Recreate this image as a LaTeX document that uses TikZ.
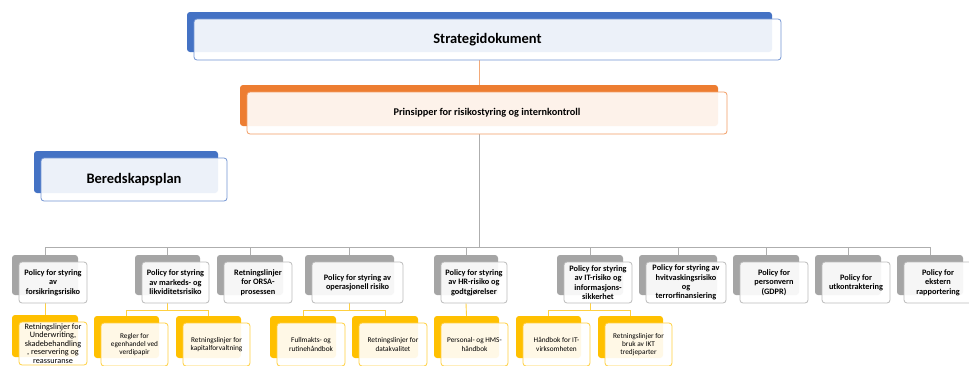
\documentclass[tikz,border=0pt]{standalone}
\usepackage{fontspec}
\setmainfont{Carlito}
\usetikzlibrary{backgrounds}

\definecolor{cblue}{HTML}{4472C4}
\definecolor{corange}{HTML}{ED7D31}
\definecolor{cgray}{HTML}{A5A5A5}
\definecolor{cgold}{HTML}{FFC000}

\tikzset{
  tileback/.style={rectangle, rounded corners=3pt, inner sep=0pt, draw=none},
  tilefront/.style={rectangle, rounded corners=3pt, inner sep=1pt, fill=white,
    fill opacity=0.9, text opacity=1, line width=0.8pt, align=center},
  fbig/.style={font=\fontsize{14.5}{17}\selectfont\bfseries},
  fmid/.style={font=\fontsize{10.3}{12}\selectfont\bfseries},
  fpol/.style={font=\fontsize{8.3}{9.4}\selectfont\bfseries},
  fdoc/.style={font=\fontsize{7.3}{8.4}\selectfont},
  fdocl/.style={font=\fontsize{8.2}{8.5}\selectfont},
  graylink/.style={draw=cgray!90, line width=0.9pt},
  goldlink/.style={draw=cgold!75, line width=0.9pt},
  toplink/.style={draw=corange!65, line width=1pt},
}

% #1 name, #2 x, #3 y (centre of front tile), #4 width, #5 height,
% #6 colour, #7 font style, #8 text
\newcommand\tile[8]{%
  \pgfmathsetmacro\tbw{#4-2}\pgfmathsetmacro\tbh{#5-1}%
  \pgfmathsetmacro\tbx{#2-8}\pgfmathsetmacro\tby{#3-7.5}%
  \node[tileback, fill=#6, minimum width=\tbw pt, minimum height=\tbh pt] (#1b) at (\tbx,\tby) {};
  \node[tilefront, draw=#6!75, minimum width=#4pt, minimum height=#5pt, #7] (#1) at (#2,#3) {#8};
}

\begin{document}
\begin{tikzpicture}[x=1pt, y=-1pt]
  \useasboundingbox (0,0) rectangle (969,365);
  \clip (0,0) rectangle (969,365);

  % top levels
  \tile{S}{487.5}{39.5}{587}{41}{cblue}{fbig}{Strategidokument}
  \tile{P}{487}{113}{480}{42}{corange}{fmid}{Prinsipper for risikostyring og internkontroll}
  \tile{B}{134}{179.5}{186}{43}{cblue}{fbig}{Beredskapsplan}

  % policies
  \tile{p1}{53}{282.5}{68}{41}{cgray}{fpol}{Policy for styring\\av\\forsikringsrisiko}
  \tile{p2}{175.5}{282.5}{67}{41}{cgray}{fpol}{Policy for styring\\av markeds- og\\likviditetsrisiko}
  \tile{p3}{258}{282.5}{68}{41}{cgray}{fpol}{Retningslinjer\\for ORSA-\\prosessen}
  \tile{p4}{357.5}{282.5}{91}{41}{cgray}{fpol}{Policy for styring av\\operasjonell risiko}
  \tile{p5}{474}{282.5}{66}{41}{cgray}{fpol}{Policy for styring\\av HR-risiko og\\godtgjørelser}
  \tile{p6}{598}{282.5}{68}{41}{cgray}{fpol}{Policy for styring\\av IT-risiko og\\informasjons-\\sikkerhet}
  \tile{p7}{686}{282.5}{80}{41}{cgray}{fpol}{Policy for styring av\\hvitvaskingsrisiko\\og\\terrorfinansiering}
  \tile{p8}{774}{282.5}{68}{41}{cgray}{fpol}{Policy for\\personvern\\(GDPR)}
  \tile{p9}{856}{282.5}{68}{41}{cgray}{fpol}{Policy for\\utkontraktering}
  \tile{p10}{938}{282.5}{68}{41}{cgray}{fpol}{Policy for\\ekstern\\rapportering}

  % governing documents
  \tile{c1}{53}{343.5}{68}{43}{cgold}{fdocl}{Retningslinjer for\\Underwriting,\\skadebehandling\\, reservering og\\reassuranse}
  \tile{c2a}{134.5}{344.5}{67}{43}{cgold}{fdoc}{Regler for\\egenhandel ved\\verdipapir}
  \tile{c2b}{216.5}{344.5}{67}{43}{cgold}{fdoc}{Retningslinjer for\\kapitalforvaltning}
  \tile{c4a}{311}{344.5}{68}{43}{cgold}{fdoc}{Fullmakts- og\\rutinehåndbok}
  \tile{c4b}{393}{344.5}{68}{43}{cgold}{fdoc}{Retningslinjer for\\datakvalitet}
  \tile{c5}{474.5}{344.5}{67}{43}{cgold}{fdoc}{Personal- og HMS-\\håndbok}
  \tile{c6a}{556.5}{344.5}{67}{43}{cgold}{fdoc}{Håndbok for IT-\\virksomheten}
  \tile{c6b}{638.5}{344.5}{67}{43}{cgold}{fdoc}{Retningslinjer for\\bruk av IKT\\tredjeparter}

  \coordinate (bus) at (0,247.5);
  \coordinate (cbus) at (0,310.5);

  \begin{pgfonlayer}{background}
    \fill[white] (0,0) rectangle (969,365);
    \draw[toplink] (Sb.center |- S.south) -- (Sb.center |- Pb.north);
    \foreach \k in {p1,p2,p3,p4,p5,p6,p7,p8,p9,p10}
      \draw[graylink] (Pb.center |- P.south) -- (Pb.center |- bus) -| (\k b.north);
    \draw[goldlink] (p1b.center |- p1.south) -- (c1b.north);
    \foreach \k in {c2a,c2b}
      \draw[goldlink] (p2b.center |- p2.south) -- (p2b.center |- cbus) -| (\k b.north);
    \foreach \k in {c4a,c4b}
      \draw[goldlink] (p4b.center |- p4.south) -- (p4b.center |- cbus) -| (\k b.north);
    \draw[goldlink] (p5b.center |- p5.south) -- (c5b.north);
    \foreach \k in {c6a,c6b}
      \draw[goldlink] (p6b.center |- p6.south) -- (p6b.center |- cbus) -| (\k b.north);
  \end{pgfonlayer}
\end{tikzpicture}
\end{document}
